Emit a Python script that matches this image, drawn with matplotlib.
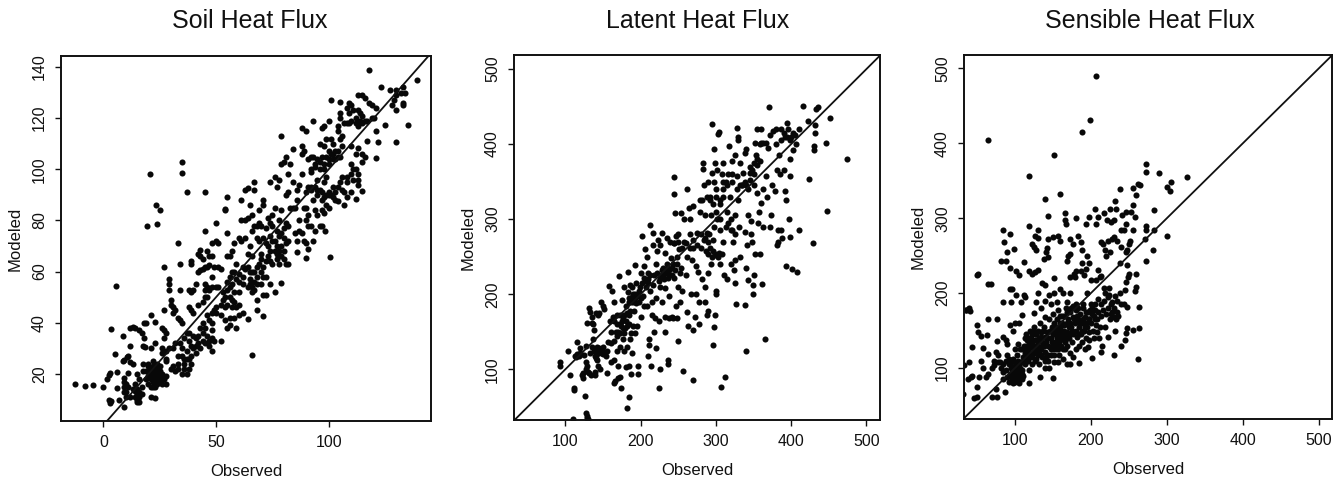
import matplotlib
matplotlib.use("Agg")
import matplotlib.pyplot as plt

plt.rcParams['font.family'] = ['Liberation Sans', 'DejaVu Sans']

titres = ["Soil Heat Flux", "Latent Heat Flux", "Sensible Heat Flux"]

# (observed, modeled)
soil = [(-12.5,16),(-8,15.3),(-4.5,15.6),(0,15),(1.5,18),(2.5,19.5),(3,20.5),(2.5,10),(2.8,8.5),(3.5,9.5),(3.5,37.7),(5.5,54.4),
(5,27.8),(6,20.7),(6,14.5),(7,10),(8.5,25),(9,25.5),(8.5,35),(9,7),(9,13),(9,15),(9,17),(9,18.5),(10,11),(10.5,26.5),(11,27),
(11,20.5),(12,11),(12,24.5),(12,31),(12,38),(13,38.5),(13,24),(13,14),(14,13.5),(14,38),(15,20),(15,10),(15,9),(16,11),(16,13),
(16,37),(16,18),(17,12),(17,36),(17.5,31),(17.5,21),(17.5,24),(18,34),(18,40),(19,40),(18.5,30.5),(20,19),(20,21),(20,23),(20,24),
(19.5,78),(20.5,98),(21,43),(21,30),(21,22),(21,18),(21,15),(21,11),(22,21),(22,19),(22,17),(22,23),(23,10.5),(23,20),(23,18),(23,15),
(23,32),(23,40.5),(23.5,86),(24,78.5),(24,20),(24,22),(24,18),(25,84),(25,19),(25,21),(25,17),(26,20),(26,18),(26,38),(26,30),(26,28),
(27,37),(27,62),(27,45),(27,34),(28,26),(28,29),(28,36),(28,25),(28,19),(28,16),(29,55),(29,57),(29,53),(29,30),(30,49),(30,47),(30,22),
(31,46),(31,44),(31,30),(31,23),(32,45),(32,32),(32,21),(33,71),(33,42),(33,27),(33,24),(33,22),(34,53),(34,63),(34,41),(34,32),
(35,103),(35,98.5),(35,40),(35,20),(35,30),(35,27),(36,26),(36,24),(36,34),(37,91),(37,20),(37,26),(37,36),(37,29),(38,53),(38,46),
(38,36),(38,22),(38,33),(39,64),(39,63),(39,52),(39,45),(39,31),(39,27),(40,53),(40,44),(40,35),(40,30),(41,55),(41,34),(41,31),
(42,67),(42,60),(42,47),(42,35),(43,68.5),(43,66),(43,60.5),(43,38),(43,30),(44,65),(44,61),(44,48),(44,40),(44,36),(45,76),(45,91),
(45,62),(45,55),(45,53),(45,50),(45,38),(45,32),(46,68),(46,62),(46,54),(46,50),(46,43),(47,66),(47,62.5),(47,53),(47,41),(47,33),
(47,31),(48,71),(48,66),(48,58),(48,54),(48,44),(48,40),(48,34),(48,29),(49,62),(49,45),(49,33),(50,79),(50,72),(50,54),(50,44),
(51,71),(51,62),(51,54),(52,61),(52,43),(52,33),(53,49),(54,84),(54,84.5),(54,41),(54,50),(55,89),(55,75),(55,66),(55,56),(55,53),
(55,47),(55,38),(56,66),(56,58),(56,50),(56,42),(56,39),(57,68),(57,60),(57,55),(57,49),(57,46),(58,71),(58,60),(58,42),(58,48),
(59,63),(59,57),(59,46),(59,38),(60,73),(60,59),(60,56),(60,47),(60,43),(61,88),(61,72),(61,80),(62,58),(62,44),(63,92),(63,80),
(63,73),(63,61),(64,92.5),(64,81),(64,66.8),(64,62),(64,54),(64,41.5),(65,86),(65,70),(65,60),(65,57),(65,55),(66,82),(66,76),(66,66),
(66,54),(66,52),(66,27.5),(67,95),(67,78),(67,60),(67,56),(67,53),(67,92),(68,78),(68,73),(68,58),(68,55),(68,49),(68,45),(69,84),
(69,79),(69,72),(69,63),(70,78),(70,67),(70,65),(70,55),(71,88),(71,86),(71,73),(71,62),(71,58),(71,51),(71,42.5),(72,77),(72,71),
(72,58),(72,51),(73,81),(73,70),(73,66),(74,95),(74,79),(74,74),(74,64),(74,55),(75,82),(75,78),(75,72),(75,63),(76,97),(76,85),
(76,68),(76,52),(77,93),(77,76),(77,70),(77,65),(78,96),(78,80),(78,74),(78,68),(78,63),(79,113),(79,102),(79,84),(79,75),(79,55.5),
(80,103),(80,73),(80,68),(80,65),(81,105),(81,90),(81,79),(81,71),(81,63),(82,98),(82,91),(82,72),(82,78),(82,63),(83,102),(84,108),
(84,85),(84,95),(85,85),(85,75),(86,92),(86,72),(86,67.5),(87,94),(87,80),(87,76),(88,116),(88,109),(88,106),(88,98),(88,75),(89,107),
(89,72),(89,85),(90,115),(90,91),(90,85),(90,71),(90,80),(90,65.5),(91,104),(91,93),(91,82),(91,78),(91,69),(92,99),(92,105),(92,92),
(92,78),(93,119),(93,105),(93,88),(93,72),(94,101),(94,93),(94,84),(94,76),(95,104),(95,96),(95,90),(95,82),(96,110),(96,100),(96,92),
(96,78),(97,116),(97,105),(97,88),(97,78),(97,84),(98,117),(98,109),(98,100),(98,95),(98,83),(98.5,76),(99,112),(99,105),(99,97),
(99,90),(99,86),(100,119),(100,107),(100,102),(100,90),(100,85),(100.5,65.8),(101,127),(101,112),(101,106),(101,90),(102,110),(102,104),
(102,93),(103,107),(103,91),(103,88),(104,117),(104,115),(104,105),(104,93),(104,87.5),(105,122),(105,126.5),(105,120),(105,112),
(105,105),(105,95),(106,113),(106,109),(106,97),(107,91),(107,86),(108,124),(108,118),(108,97),(108,89),(109,126),(109,122),(109,118),
(110,125),(110,109),(110,102),(110,91),(111,123),(111,100),(111,96),(112,120),(112,118),(112,106),(112,88.5),(113,129),(113,123),
(113,118),(113,108.5),(113,98),(113,96),(113,94),(114,122),(114,119),(115,129),(115,121),(115,106),(115,103),(115,91.5),(116,128),
(116,119),(116,105),(117,111),(118,126),(118,139),(119,125),(120,120),(121,115),(121,104.5),(121,124),(122,110.5),(123,132),(125,117.5),
(127,131),(128,125),(129,127),(130,131),(130,129),(130,110.5),(130,123),(132,130),(133,126),(133,125),(133,132),(134,130),(135,117.5),(139,135)]

soil_dense = [(19,18),(19,21),(20,16),(21,20),(22,15),(22,25),(23,22),(24,16),(24,24),(25,23),(26,16),(27,18),(14,16),(14,11),(15,12),
(15,14),(16,9),(17,15),(10,13),(10,16),(11,15),(36,22),(38,26),(39,24),(41,28),(42,32),(44,33),(46,35),(48,37),(50,46),(52,47),
(53,52),(54,46),(56,54),(58,52),(60,52),(62,55),(62,62),(66,60),(68,62),(70,60),(72,64),(74,68),(76,72),(77,67),(79,70),(79,66),
(80,77),(83,85),(86,88),(92,100),(94,102),(96,103),(98,102),(100,104),(102,106),(103,104),(104,107),(92,93),(95,92),(97,91),(98,89),
(100,91),(102,89),(106,92),(108,95),(110,98),(112,100),(107,118),(110,119),(113,117),(115,118),(117,119),(119,120)]

latent = [(93,110),(93,105),(103,124),(106,92),(110,34),(111,75),(111,72),(113,118),(114,116),(115,137),(116,121),(118,118),(119,129),
(120,122),(122,92),(124,95),(124,88),(125,119),(126,64),(127,131),(127,100),(128,42),(129,38),(129,35),(130,34),(128,110),(129,105),
(129,162),(130,97),(131,95),(132,182),(133,122),(133,177),(134,92),(135,162),(136,170),(137,160),(137,140),(138,152),(139,118),(139,97),
(140,92),(140,125),(141,175),(141,115),(142,130),(142,120),(143,105),(144,172),(145,175),(145,128),(146,100),(148,190),(149,125),
(150,185),(150,120),(152,180),(154,118),(155,95),(157,137),(158,211),(159,165),(160,135),(161,110),(162,205),(163,170),(164,190),
(164,82),(165,138),(165,112),(166,85),(167,150),(168,172),(168,145),(169,125),(170,88),(170,104),(171,224),(172,160),(172,130),(172,90),
(173,148),(174,75),(175,192),(175,165),(176,170),(177,140),(178,210),(178,125),(179,155),(180,185),(181,103),(182,175),(182,130),
(182,48),(183,203),(183,230),(184,195),(184,63),(184,105),(185,160),(186,140),(186,212),(187,94),(187,190),(187,148),(188,122),(189,210),
(190,200),(190,158),(191,178),(192,239),(192,195),(193,148),(194,215),(195,158),(196,94),(197,105),(198,190),(199,210),(200,228),
(200,170),(202,278),(203,198),(204,238),(205,185),(206,260),(207,210),(208,250),(209,185),(210,220),(210,118),(211,140),(211,133),
(212,292),(213,205),(214,105),(215,172),(215,190),(216,265),(217,282),(218,150),(219,168),(220,240),(220,128),(221,195),(222,258),
(223,272),(224,75),(225,165),(226,265),(226,100),(228,190),(228,232),(229,282),(230,225),(231,220),(232,208),(232,150),(233,255),
(233,170),(235,275),(235,240),(236,235),(236,113),(237,107),(238,198),(238,168),(239,270),(240,248),(242,225),(242,170),(243,168),
(244,268),(245,356),(245,333),(245,222),(246,308),(247,278),(247,185),(248,250),(248,168),(249,138),(250,280),(250,210),(251,260),
(252,190),(253,308),(254,235),(255,205),(256,98),(257,270),(258,300),(260,225),(261,250),(262,176),(262,340),(263,158),(264,315),
(265,280),(266,300),(267,200),(268,245),(269,262),(269,153),(269,86),(270,318),(272,170),(273,200),(273,238),(275,265),(276,230),
(277,190),(278,160),(279,325),(279,310),(280,280),(281,220),(283,375),(283,367),(284,345),(285,305),(286,210),(286,190),(287,258),
(288,172),(289,350),(290,178),(290,228),(291,280),(292,330),(293,305),(294,240),(295,427),(295,362),(296,133),(297,393),(297,350),
(298,157),(299,375),(299,253),(299,172),(300,340),(300,205),(300,200),(302,365),(302,300),(303,413),(304,416),(304,255),(305,240),
(306,325),(307,76),(308,360),(309,330),(310,375),(311,225),(312,90),(313,350),(314,290),(315,220),(316,360),(318,397),(319,330),
(320,300),(320,240),(322,378),(322,350),(323,270),(324,232),(325,245),(326,385),(326,215),(327,187),(328,422),(328,357),(330,405),
(330,410),(331,290),(332,375),(332,250),(335,345),(336,362),(338,388),(338,283),(339,186),(340,394),(340,124),(340,235),(341,265),
(342,219),(343,305),(345,370),(346,297),(347,280),(348,270),(349,200),(349,212),(350,360),(351,225),(352,253),(353,385),(355,420),
(355,335),(356,295),(357,310),(358,253),(360,402),(360,420),(360,322),(361,214),(362,340),(363,290),(365,140),(366,358),(368,330),
(369,395),(371,449),(372,289),(373,305),(374,345),(376,418),(378,338),(380,400),(381,366),(381,265),(382,285),(383,270),(384,385),
(385,360),(386,285),(388,275),(391,365),(392,338),(393,325),(393,238),(395,428),(396,420),(397,300),(398,380),(398,357),(399,276),
(401,234),(402,392),(405,412),(408,229),(410,420),(411,286),(416,451),(423,431),(424,353),(429,268),(430,398),(430,392),(431,425),
(432,415),(433,447),(435,450),(446,401),(447,311),(452,435),(474,380),
(205,222),(210,215),(213,225),(216,212),(222,228),(226,222),(230,235),(234,228),(238,232),(236,222),(226,210),(243,240),(246,232),
(185,190),(188,196),(192,200),(196,198),(200,195),(168,160),(172,172),(176,155),(180,165),(184,172),(178,148),(290,253),(295,250),
(303,250),(308,254),(296,258),(340,345),(345,352),(350,375),(354,380),(348,365),(386,405),(392,410),(398,405),(402,415),(406,400),
(270,272),(275,282),(285,275),(290,270),(298,290),(305,300),(315,310),(322,285),(325,305),(330,325),(335,345),(310,350),(300,330)]

latent_dense = [(135,130),(138,125),(142,112),(144,125),(147,122),(150,130),(155,125),(160,150),(165,165),(170,150),(174,158),(178,172),
(182,158),(186,178),(190,190),(194,188),(198,205),(202,215),(206,218),(210,228),(218,225),(224,218),(228,225),(232,232),(238,225),
(242,235),(248,240),(252,228),(245,268),(250,270),(255,262),(260,268),(265,262),(280,262),(284,272),(288,282),(292,262),(296,272),
(300,252),(305,285),(310,270),(316,295),(320,285),(325,280),(282,325),(288,330),(292,325),(296,320),(300,310),(305,320),(310,340),
(315,345),(322,360),(328,340),(332,345),(338,350),(342,340),(345,362),(350,345),(354,372),(358,378),(362,402),(366,402),(372,412),
(380,420),(386,420),(390,415),(394,410),(400,410),(358,400),(352,402)]

sensible = [(207,490),(199,431),(189,415),(64,404),(152,384),(118,357),(140,326),(160,333),(273,373),(272,362),(290,361),(326,355),
(306,349),(300,342),(304,336),(239,339),(255,341),(262,346),(265,345),(259,331),(232,323),(255,318),(206,313),(225,312),(233,312),
(217,307),(241,305),(246,309),(253,308),(166,307),(144,303),(194,293),(197,302),(210,302),(207,293),(180,301),(166,298),(167,292),
(118,290),(84,284),(94,279),(130,285),(157,277),(150,275),(143,272),(160,270),(173,272),(176,266),(183,277),(187,268),(122,265),
(125,262),(128,258),(127,277),(131,274),(142,260),(141,255),(143,248),(138,245),(86,268),(99,259),(90,255),(82,243),(88,243),(112,242),
(94,234),(102,230),(105,224),(50,224),(51,226),(118,229),(122,226),(127,228),(131,231),(64,212),(68,212),(93,206),(96,206),(136,214),
(139,211),(152,220),(170,250),(172,252),(168,243),(180,230),(178,225),(179,222),(172,222),(188,258),(189,240),(193,232),(195,250),
(198,240),(187,230),(191,224),(200,218),(207,217),(210,231),(216,265),(218,258),(220,250),(222,270),(228,272),(231,275),(235,270),
(240,262),(246,255),(247,258),(252,270),(250,265),(240,285),(244,285),(246,292),(255,285),(258,302),(272,290),(273,285),(283,284),
(271,272),(272,243),(282,258),(283,311),(300,277),(213,268),(225,255),(230,298),(226,295),(221,298),(239,240),(247,237),(250,225),
(249,221),(259,225),(260,208),(258,203),(246,215),(245,204),(238,200),(232,196),(224,207),(224,197),(217,207),(214,223),(212,222),
(217,190),(222,180),(226,172),(230,168),(233,165),(236,170),(240,185),(243,185),(248,182),(263,182),(264,153),(256,151),(247,153),
(246,147),(240,130),(245,138),(231,118),(262,112),(232,150),(222,142),(213,122),(215,130),(212,155),(218,155),(208,148),(202,114),
(204,140),(198,137),(192,125),(184,107),(173,106),(168,105),(157,108),(150,87),(145,100),(140,100),(133,88),(119,80),(104,85),(97,80),
(87,68),(77,62),(70,62),(75,72),(62,88),(58,100),(56,110),(53,88),(50,75),(46,60),(50,61),(44,90),(38,86),(42,88),(32,65),(33,104),
(40,108),(44,128),(58,127),(55,143),(51,148),(50,158),(63,144),(64,165),(77,165),(76,136),(65,119),(65,92),(72,104),(35,177),(36,178),
(40,180),(41,176),(84,188),(95,188),(102,198),(108,188),(112,198),(113,195),(110,171),(113,140),(100,160),(93,158),(98,150),(105,160),
(125,173),(128,188),(130,200),(135,180),(140,190),(145,198),(148,185),(152,200),(155,188),(160,205),(163,200),(168,188),(172,200),
(176,183),(180,185),(183,180),(190,185),(195,200),(200,185),(205,178),(210,192),(213,185),(218,200),(222,195),(228,175),(235,190),
(80,108),(82,100),(84,95),(85,85),(88,110),(90,118),(92,105),(93,92),(95,100),(96,85),(98,112),(99,95),(100,82),(100,108),(102,90),
(103,118),(104,100),(105,80),(106,92),(107,125),(108,108),(109,85),(110,98),(111,115),(112,130),(113,105),(114,145),(115,122),(116,138),
(117,110),(118,98),(119,128),(120,115),(120,150),(121,140),(122,105),(123,132),(124,120),(125,155),(126,145),(127,110),(128,128),
(129,138),(130,118),(131,150),(132,105),(133,160),(134,128),(135,142),(136,115),(138,155),(139,168),(140,122),(141,135),(142,148),
(143,110),(145,165),(146,128),(147,140),(148,118),(149,155),(150,172),(151,132),(152,108),(153,148),(154,125),(155,165),(156,140),
(157,178),(158,118),(159,155),(160,130),(161,145),(162,170),(163,112),(164,138),(165,158),(166,125),(167,180),(168,148),(169,130),
(170,165),(171,140),(172,120),(173,175),(174,155),(175,135),(176,168),(177,115),(178,148),(179,160),(180,125),(181,178),(182,142),
(183,165),(184,130),(185,155),(186,172),(187,145),(188,135),(189,160),(190,180),(191,150),(192,168),(193,140),(194,175),(195,155),
(196,128),(197,165),(198,148),(199,178),(200,160),(201,172),(203,150),(205,165),(207,158),(209,175),(211,140),(214,170),(216,178),
(220,172),(225,165),(228,188),(110,125),(112,110),(118,135),(122,120),(126,130),(128,112),(132,140),(135,125),(140,110),(143,130),
(145,140),(148,150),(150,125),(152,145),(155,150),(158,135),(160,160),(162,150),(165,140),(85,105),(88,98),(90,88),(92,112),(95,108),
(97,90),(100,92),(102,105),(78,108),(75,122),(78,118),(70,100),(72,110),(90,132),(88,138),(85,142),(100,125),(104,132)]

sensible_dense = [(92,82),(94,90),(96,95),(98,102),(100,88),(101,98),(102,85),(103,95),(104,110),(105,105),(106,88),(107,100),(108,95),
(109,92),(110,108),(111,90),(113,120),(114,130),(115,112),(116,125),(117,118),(118,140),(119,122),(120,135),(121,128),(122,145),(123,115),
(124,150),(125,125),(126,138),(127,120),(128,145),(129,125),(130,135),(131,128),(132,122),(133,140),(134,148),(135,118),(136,135),
(137,150),(138,130),(139,142),(141,115),(144,118),(146,150),(147,125),(149,135),(150,145),(151,160),(152,118),(153,135),(154,155),
(155,130),(156,150),(157,125),(158,145),(159,170),(160,140),(161,130),(162,160),(163,125),(164,150),(165,170),(166,135),(167,145),
(168,160),(169,175),(170,140),(171,155),(172,145),(173,160),(174,180),(175,150),(176,145),(178,165),(180,150),(182,170),(184,145),
(186,160),(188,150),(190,165),(192,155),(194,160),(196,175),(198,165),(202,180),(204,170),(206,185),(208,165),(226,185),(230,180),(234,175)]

panneaux = [soil + soil_dense, latent + latent_dense, sensible + sensible_dense]
cadres = [(61, 431, 56, 421), (514, 880, 55, 420), (964, 1332, 55, 419)]
lim_x = [(-18.8, 145.4), (31.8, 518), (33, 517.5)]
lim_y = [(1.6, 144.3), (32.5, 518.7), (32, 518)]
ticks_x = [[0, 50, 100], [100, 200, 300, 400, 500], [100, 200, 300, 400, 500]]
ticks_y = [[20, 40, 60, 80, 100, 120, 140], [100, 200, 300, 400, 500], [100, 200, 300, 400, 500]]
centres_titre = [250, 698, 1150]

fig = plt.figure(figsize=(13.44, 4.8), dpi=100)
for i in range(3):
    g, d, h, b = cadres[i]
    ax = fig.add_axes([g / 1344, 1 - b / 480, (d - g) / 1344, (b - h) / 480])
    obs = [p[0] for p in panneaux[i]]
    mod = [p[1] for p in panneaux[i]]
    ax.plot(obs, mod, 'o', color='#080808', ms=4.4, mew=0)
    ax.axline((0, 0), slope=1, color='#111111', lw=1.3)
    ax.set_xlim(lim_x[i])
    ax.set_ylim(lim_y[i])
    ax.set_xticks(ticks_x[i])
    ax.set_yticks(ticks_y[i])
    ax.tick_params(length=4, width=1, labelsize=11.5, pad=6, colors='#111111')
    ax.tick_params(axis='y', labelrotation=90)
    for t in ax.get_yticklabels():
        t.set_va('center')
    for s in ax.spines.values():
        s.set_linewidth(1.4)
        s.set_color('#111111')
    ax.set_xlabel("Observed", fontsize=12, labelpad=10, color='#111111')
    ax.set_ylabel("Modeled", fontsize=12, labelpad=7, color='#111111')
    fig.text(centres_titre[i] / 1344, 1 - 21 / 480, titres[i], fontsize=18, color='#111111', ha='center', va='center')

fig.savefig("out.png", dpi=100)
